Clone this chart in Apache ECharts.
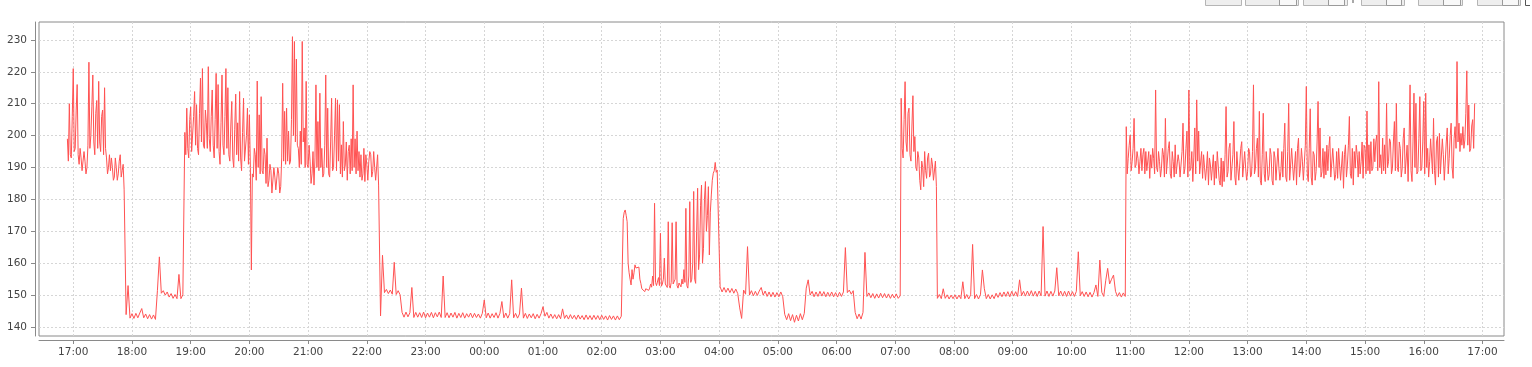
<!DOCTYPE html>
<html>
<head>
<meta charset="utf-8">
<script src="https://cdn.jsdelivr.net/npm/echarts@6/dist/echarts.min.js"></script>
<style>
html,body{margin:0;padding:0;background:#fff;}
#chart{width:1532px;height:367px;}
</style>
</head>
<body>
<div id="chart"></div>
<script>
// ---- tick labels ----
const hourLabels = ['17:00','18:00','19:00','20:00','21:00','22:00','23:00','00:00','01:00','02:00','03:00','04:00','05:00','06:00','07:00','08:00','09:00','10:00','11:00','12:00','13:00','14:00','15:00','16:00','17:00'];
const yTickValues = [140,150,160,170,180,190,200,210,220,230];

// ---- series values (clock start of each run, minutes between samples, values) ----
const segStarts = ['16:54','17:54','18:26','18:54','22:14','22:36','02:22','04:01','07:06','07:43','10:56'];
const segSteps  = [1, 2, 2, 1, 2, 2, 1, 2, 1, 2, 1];

const voltsA = [199,192,210,194,193,206,221,195,196,208,216,194,191,196,193,189,189,195,192,188,
  190,197,223,196,200,209,219,198,194,207,211,196,217,198,195,206,208,194,215,196,
  193,188,190,194,189,193,190,186,187,193,190,186,188,192,194,187,189,191,183];
const voltsB = [143.9,153,142.8,144.2,142.7,144.3,142.9,144.4,145.8,142.9,144.1,142.6,143.9,142.5,143.8,142.4];
const voltsC = [151.4,162,150.6,151.4,150,151,149.4,150.5,149,150.2,148.9,156.5,148.9,150.1];
const voltsD = [201,194,208.6,196,193,205,209,195,195,206,213.8,197,209.7,196,194,207,218,198,221,197,
  196,208,204,196,221.6,199,195,206,214.3,197,193,205,219.5,196,216,195,191,204,219,197,
  194,206,221,196,215,194,192,203,210.7,193,190,202,213,194,204,192,213.8,193,189,201,
  211.7,192,192,200,208.6,191,206.5,190,157.9,188,187,196,194,186,217.1,190,206.5,188,212.2,189,
  188,196,194,185,199.2,184,186,191,189,182,182,190,187,183,183,190,188,182,184,193,
  216.4,192,207.6,191,208.6,192,201.4,191,192,205,231,200,229.5,198,224,197,196,190,201.4,191,
  229.5,198,202.4,190,217,191,190,197,192,185,188,195,184.5,193,215.9,190,204.4,189,213.3,190,
  196,187,188,197,219,190,208.6,188,187,198,211.7,189,190,200,211.7,189,211.2,192,209.7,188,
  197.1,187,204.4,189,190.8,198,186,195,197,188,199,189,215.9,190,199,188,201.4,189,195,187,
  194,186,188,196,185.6,194,190.8,186,191.8,195,194,187,188.7,195,190,186,186.6,194,184.5];
const voltsE = [143.5,162.5,150.8,151.8,150.5,151.6,150.3,160.3,150.2,151.4,150.1];
const voltsF = [144.6,143.1,144.7,143.2,144.5,152.4,143,144.6,143.1,144.5,
  143,144.7,142.9,144.4,143.1,144.6,142.9,144.5,143.2,144.7,
  143,156,143,144.5,142.9,144.4,143.1,144.6,142.8,144.3,
  143,144.5,142.8,144.2,143.1,144.4,142.9,144.3,143,144.1,
  142.8,144.3,148.5,142.9,144.4,142.8,144.2,143,144.5,142.8,
  144.3,148,142.9,144.4,142.8,144.2,154.8,142.9,144.3,142.8,
  144.1,152.2,142.8,144.3,142.7,144.1,142.9,144.2,142.6,144,
  142.8,144.2,146.4,143.4,144.6,142.8,144.1,142.7,143.9,142.6,
  143.9,142.6,145.7,142.7,143.8,142.5,143.9,142.6,143.7,142.4,
  143.8,142.5,143.6,142.3,143.8,142.4,143.6,142.3,143.7,142.4,
  143.6,142.3,143.7,142.4,143.5,142.2,143.6,142.4,143.5,142.2,
  143.5,142.3,143.4];
const voltsG = [174,176,176.7,175,173,160,157,155,153.2,158,155,157,159.5,158.5,158,159,158.8,155,153.7,152,
  152.5,151.8,151.1,152,152.4,151.5,151.5,152.2,153.5,152.5,156,153,178.8,154,153,152.5,155.5,153,169.4,152.8,
  153.5,155,161.6,153.5,154,152.4,173,153,152.2,154,172.7,153.5,153.2,155,173,153,152.2,153.8,154,152.6,
  155,153.5,158,154,177.2,153,152.2,156,179.3,154,155,160,182.5,155,153.7,170,183.5,158,162.6,178,
  184.5,160,164.7,180,185.6,170,175,184,162.6,176,181.4,186,188.2,189,191.6,188.5,189.2,189.8,189.2];
const voltsH = [152.6,151,152.4,150.9,152.2,150.8,152.1,150.6,151.9,150.5,
  146,142.7,151.6,150.3,165.2,150,151.4,149.8,151.2,149.9,
  151.3,152.4,150,151.3,149.6,151,149.5,150.9,149.4,150.8,
  149.5,151,149.5,144,142.3,144.2,142,143.9,141.5,143.7,
  141.9,144.2,142.3,144.3,152.2,154.8,150,151.2,149.5,151,
  149.6,151.2,149.7,151.1,149.5,150.9,149.6,151,149.5,150.8,
  149.4,150.9,149.6,151,164.9,150.8,151.6,150.3,151.4,144.6,
  142.6,144.1,142.5,144.6,163.4,149.6,150.7,149.2,150.5,149,
  150.4,149.1,150.6,149.2,150.5,149.1,150.4,149,150.3,149.1,
  150.4,149,149.8];
const voltsI = [211.7,196,193,205,216.9,198,195,207,208.6,194,192,203,212.5,195,199.7,190,189,195,193,186,
  183,192,190,184,195,189,186.6,193,194.5,187,188,193,190.8,186,186,192,184];
const voltsJ = [149,150.2,148.9,152,149,150.1,148.8,150,148.9,150.1,
  148.8,150,148.9,154.2,148.9,150.2,148.8,150.1,165.9,148.9,
  150.2,148.8,150.1,157.9,152,148.9,150.2,148.8,150.1,148.9,
  150.6,149.3,150.8,149.5,151,149.6,151.1,149.5,151.2,149.7,
  151.1,149.6,154.8,149.8,151.2,149.7,151.3,149.8,151.4,149.7,
  151.2,149.6,151.3,149.8,171.5,149.7,151.3,149.6,151.2,149.7,
  151.3,158.6,149.8,151.3,149.7,151.2,149.6,151.3,149.7,151.1,
  149.6,151.2,163.6,149.8,151.1,149.6,151,149.5,150.9,149.4,
  150.8,153.2,149.6,161,150.9,149.6,154.5,158.4,153.5,155,
  156.3,151.2,149.6,150.8,149.4,150.7,149.6];
const voltsK = [202.8,188,192.9,197,200.2,189,191.8,196,205.4,190,190.8,195,192.9,188,191.8,196,189,194,196,188,
  195,189,188.7,195,186.6,194,189.8,196,192.9,188,214.3,190,188.7,195,191.8,187,189.8,196,194,187,
  205.4,188,187.7,196,198.1,188,186.6,195,191.8,187,197.1,188,187.7,194,191.8,187,186.6,195,203.9,188,
  189.8,196,201.4,187,214.3,189,189.8,195,185.6,193,202.4,188,211.2,192,201.4,188,187.7,195,186.6,194,
  190,186,189.8,195,184.5,193,190.8,186,185.6,194,184.5,192,186.6,195,195.5,186,184.5,193,184,192,
  185.6,194,209.1,187,188.7,196,197.6,186,185.6,194,204.4,187,184.5,195,189.8,186,186.6,196,198.1,187,
  186.6,195,189.8,186,188.7,196,195,187,187.7,195,215.9,188,189.8,196,199.2,187,207.6,186,184.5,194,
  207,188,185.6,195,190.8,186,187.7,196,194,186,184.5,195,193,186,186.6,196,189.8,186,188.7,195,
  187,196,203.9,187,185.6,195,210.1,186,185.6,196,190.8,186,186.6,195,184.5,196,199.2,187,189.8,196,
  192,186,186.6,197,215.4,188,185.6,196,208.4,187,184.5,195,194,186,188.7,198,210.7,190,202.4,187,
  188.7,196,186.6,195,187.7,197,189,196,199.7,187,186.6,196,190.8,186,187.7,195,186.6,196,190.8,186,
  186.6,195,183.5,194,197.1,187,190.8,197,206,188,186.6,196,184.5,195,189.8,197,194,187,195,188,
  191.8,198,186.6,197,196,188,207.7,189,197.1,188,198.1,189,189.8,199,191.8,198,200.2,189,216.9,190,
  194,188,199.2,189,197.1,188,210.1,190,191.8,199,198.1,188,189.8,198,204.4,189,210.1,190,188.7,198,
  196,187,189.8,199,202.4,188,187.7,197,185.6,198,215.9,189,185.6,198,213.3,190,210.1,188,188.7,199,
  212.2,189,189.8,198,210.7,188,213.3,190,196,187,191.8,199,199.2,188,205.4,189,184.5,198,199.7,187,
  200.7,188,187.7,199,194,186,186.6,198,202.4,188,192.9,200,203.9,190,186.6,199,202.8,196,223.2,198,
  203.9,195,200.7,197,202.8,196,198.6,207,220.3,197,209.6,195,196,203,205,196,210.1];

const segValues = [voltsA, voltsB, voltsC, voltsD, voltsE, voltsF, voltsG, voltsH, voltsI, voltsJ, voltsK];

// minutes relative to 17:00 on the first day
function clockToMinute(s) {
  const p = s.split(':').map(Number);
  let v = p[0] * 60 + p[1] - 17 * 60;
  if (v < -60) v += 1440;
  return v;
}

const seriesData = [];
segValues.forEach(function (vals, i) {
  const t0 = clockToMinute(segStarts[i]);
  vals.forEach(function (v, k) { seriesData.push([t0 + k * segSteps[i], v]); });
});
const hourTickValues = hourLabels.map(function (_, i) { return i * 60; });

const chart = echarts.init(document.getElementById('chart'), null, {renderer: 'canvas'});
const FONT = '"DejaVu Sans", "Liberation Sans", sans-serif';
const gridLine = {show: true, lineStyle: {color: '#d6d6d6', type: [2, 2], width: 1}};

chart.setOption({
  animation: false,
  backgroundColor: '#ffffff',
  grid: {left: 39, top: 22, right: 28, bottom: 31, show: true, borderColor: '#8a8a8a', borderWidth: 1, backgroundColor: '#ffffff'},
  xAxis: {
    type: 'value', min: -35, max: 1462, offset: 4,
    axisLine: {show: true, onZero: false, lineStyle: {color: '#8a8a8a', width: 1}},
    axisTick: {show: true, length: 4, customValues: hourTickValues, lineStyle: {color: '#8a8a8a'}},
    axisLabel: {customValues: hourTickValues, margin: 7, color: '#444', fontFamily: FONT, fontSize: 10.5,
      formatter: function (v) { return hourLabels[Math.round(v / 60)]; }},
    splitLine: gridLine
  },
  yAxis: {
    type: 'value', min: 137.2, max: 235.6, offset: 4,
    axisLine: {show: true, onZero: false, lineStyle: {color: '#8a8a8a', width: 1}},
    axisTick: {show: true, length: 4, customValues: yTickValues, lineStyle: {color: '#8a8a8a'}},
    axisLabel: {customValues: yTickValues, margin: 8, color: '#444', fontFamily: FONT, fontSize: 10.5},
    splitLine: gridLine
  },
  series: [{
    type: 'line', data: seriesData, showSymbol: false, symbol: 'none',
    lineStyle: {color: '#ff5252', width: 1}, itemStyle: {color: '#ff5252'},
    clip: true, silent: true
  }],
  graphic: [
    {type: 'rect', shape: {x: 1205.5, y: -2.5, width: 36, height: 8}, style: {fill: '#eeeeee', stroke: '#b5b5b5'}},
    {type: 'rect', shape: {x: 1245.5, y: -2.5, width: 53, height: 8}, style: {fill: '#eeeeee', stroke: '#b5b5b5'}},
    {type: 'rect', shape: {x: 1279.5, y: -2.5, width: 17, height: 8}, style: {fill: '#f8f8f8', stroke: '#9a9a9a'}},
    {type: 'rect', shape: {x: 1303.5, y: -2.5, width: 44, height: 8}, style: {fill: '#eeeeee', stroke: '#b5b5b5'}},
    {type: 'rect', shape: {x: 1328.5, y: -2.5, width: 16, height: 8}, style: {fill: '#f8f8f8', stroke: '#9a9a9a'}},
    {type: 'rect', shape: {x: 1352.5, y: 0, width: 1, height: 3}, style: {fill: '#555'}},
    {type: 'rect', shape: {x: 1361.5, y: -2.5, width: 43, height: 8}, style: {fill: '#eeeeee', stroke: '#b5b5b5'}},
    {type: 'rect', shape: {x: 1386.5, y: -2.5, width: 15, height: 8}, style: {fill: '#f8f8f8', stroke: '#9a9a9a'}},
    {type: 'rect', shape: {x: 1418.5, y: -2.5, width: 44, height: 8}, style: {fill: '#eeeeee', stroke: '#b5b5b5'}},
    {type: 'rect', shape: {x: 1443.5, y: -2.5, width: 17, height: 8}, style: {fill: '#f8f8f8', stroke: '#9a9a9a'}},
    {type: 'rect', shape: {x: 1477.5, y: -2.5, width: 43, height: 8}, style: {fill: '#eeeeee', stroke: '#b5b5b5'}},
    {type: 'rect', shape: {x: 1502.5, y: -2.5, width: 16, height: 8}, style: {fill: '#f8f8f8', stroke: '#9a9a9a'}},
    {type: 'polyline', shape: {points: [[1525.5, 0], [1525.5, 5.5], [1530, 5.5]]}, style: {stroke: '#555', fill: null}}
  ]
});
</script>
</body>
</html>
